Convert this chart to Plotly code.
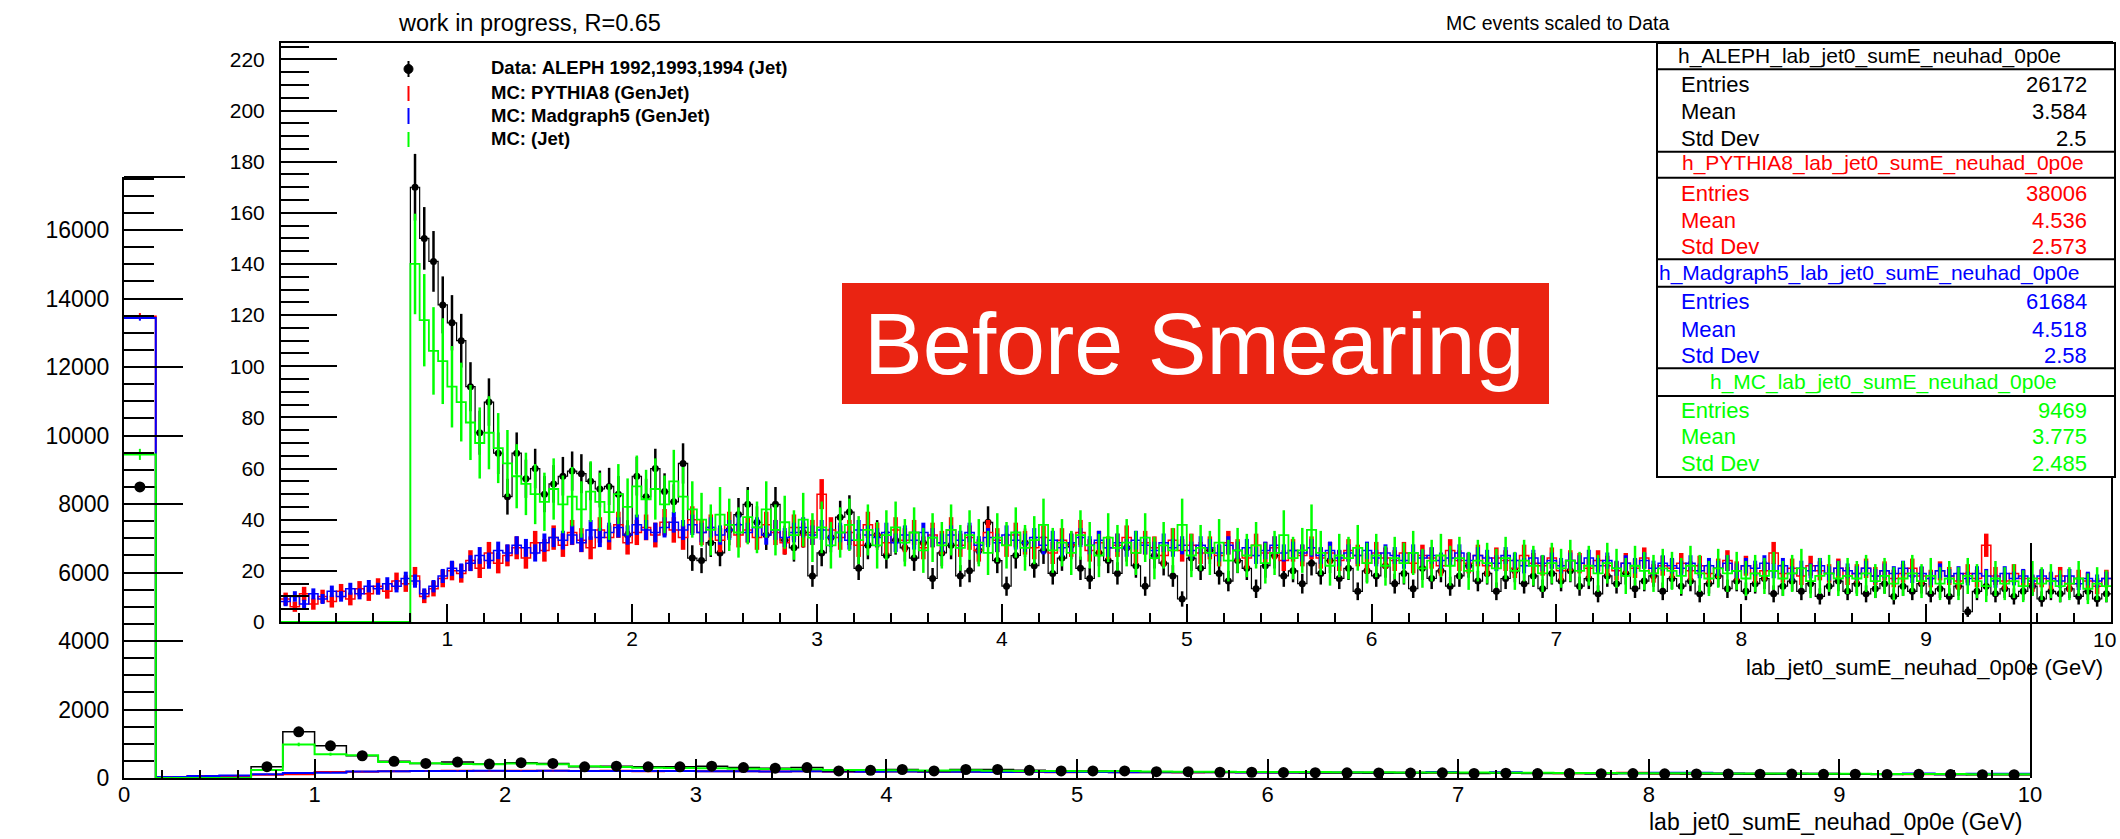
import numpy as np
import plotly.graph_objects as go

W, H = 2120, 839
FONT = "Liberation Sans, Arial, Helvetica, sans-serif"

# ---------------- data ----------------
# Main plot: 60 bins over [0, 10] GeV
main_data = [8500, 0, 0, 0, 330, 1350, 940, 650, 488, 425,
             464, 408, 448, 425, 328, 345, 328, 328, 345, 304,
             287, 304, 208, 224, 248, 208, 248, 248, 224, 208,
             208, 208, 184, 184, 168, 168, 160, 155, 150, 148,
             145, 150, 135, 140, 128, 132, 125, 130, 122, 118,
             120, 112, 115, 108, 110, 104, 106, 100, 98, 95]
main_pythia = [13480, 32, 62, 58, 96, 110, 176, 185, 196, 204,
               210, 206, 214, 209, 203, 211, 198, 205, 194, 199,
               190, 195, 186, 182, 188, 176, 180, 172, 177, 170,
               173, 166, 170, 162, 165, 159, 158, 160, 154, 156,
               151, 152, 148, 146, 144, 141, 139, 150, 134, 132,
               129, 127, 124, 121, 118, 116, 113, 111, 108, 106]
main_madgraph = [13430, 30, 56, 72, 108, 147, 150, 190, 199, 206,
                 203, 211, 207, 212, 205, 208, 201, 204, 197, 200,
                 193, 196, 189, 185, 190, 181, 184, 177, 179, 172,
                 175, 169, 171, 165, 167, 161, 162, 158, 160, 155,
                 153, 172, 149, 168, 146, 143, 141, 138, 156, 150,
                 129, 126, 124, 121, 118, 116, 130, 111, 124, 122]
main_mcjet = [9450, 0, 0, 0, 230, 980, 696, 667, 470, 430,
              412, 398, 420, 405, 345, 318, 300, 292, 286, 270,
              262, 258, 232, 236, 228, 220, 226, 214, 208, 205,
              198, 202, 190, 186, 180, 178, 176, 172, 168, 165,
              162, 160, 158, 155, 150, 148, 145, 142, 140, 136,
              133, 130, 128, 125, 122, 120, 117, 115, 112, 110]

# Inset: 198 bins of 0.05 GeV over [0.1, 10]
inset_data = [0] * 14 + [
    170, 150, 141, 124, 117, 110, 92, 74, 86, 66,
    49, 66, 56, 60, 50, 54, 57, 59, 58, 55,
    52, 53, 50, 34, 57, 49, 60, 51, 47, 62,
    25, 24, 31, 27, 36, 42, 46, 39, 34, 46,
    32, 29, 35, 18, 27, 33, 41, 43, 21, 30,
    34, 26, 32, 29, 25, 31, 17, 27, 30, 18,
    20, 28, 39, 24, 14, 26, 31, 22, 28, 19,
    25, 30, 21, 17, 27, 24, 19, 29, 22, 14,
    26, 23, 18, 9, 25, 21, 28, 19, 16, 24,
    21, 13, 22, 26, 18, 20, 15, 23, 19, 24,
    17, 21, 12, 20, 18, 22, 15, 19, 13, 21,
    17, 20, 14, 18, 22, 16, 19, 12, 17, 20,
    15, 18, 13, 19, 16, 20, 14, 17, 11, 18,
    15, 19, 13, 16, 18, 12, 17, 14, 16, 11,
    15, 18, 13, 16, 12, 15, 17, 11, 14, 16,
    12, 15, 10, 14, 16, 12, 15, 11, 13, 15,
    10, 14, 12, 15, 11, 13, 10, 14, 4, 12,
    14, 11, 13, 10, 12, 14, 9, 12, 11, 13,
    10, 12, 9, 11]
inset_pythia = [
    9, 6, 11, 7, 10, 8, 12, 9, 13, 11,
    14, 12, 16, 15, 18, 10, 13, 17, 20, 19,
    24, 21, 27, 23, 26, 29, 25, 31, 28, 33,
    30, 35, 32, 29, 36, 33, 38, 31, 35, 37,
    34, 39, 36, 33, 40, 35, 37, 32, 38, 34,
    36, 33, 38, 35, 31, 37, 34, 35, 50, 36,
    33, 35, 30, 38, 34, 31, 36, 32, 35, 29,
    34, 31, 36, 30, 33, 28, 35, 32, 30, 34,
    31, 29, 33, 27, 32, 30, 35, 28, 31, 29,
    30, 33, 27, 31, 29, 26, 32, 28, 30, 27,
    29, 26, 31, 28, 25, 30, 27, 29, 24, 28,
    26, 29, 25, 27, 24, 28, 26, 23, 27, 25,
    24, 27, 23, 26, 25, 22, 28, 24, 23, 26,
    22, 25, 24, 21, 26, 23, 22, 25, 20, 24,
    23, 21, 24, 22, 20, 23, 21, 25, 19, 22,
    21, 23, 20, 22, 19, 21, 24, 20, 22, 19,
    20, 27, 19, 21, 18, 22, 20, 19, 21, 18,
    19, 21, 18, 20, 17, 19, 21, 18, 17, 20,
    18, 16, 19, 17, 30, 18, 16, 19, 17, 15,
    17, 16, 18, 15, 17, 16, 14, 17]
inset_madgraph = [
    8, 10, 7, 11, 9, 12, 10, 13, 11, 14,
    13, 15, 14, 17, 16, 11, 14, 18, 21, 20,
    23, 26, 24, 28, 27, 30, 29, 27, 31, 33,
    32, 34, 31, 36, 33, 35, 37, 34, 38, 36,
    35, 37, 39, 36, 38, 35, 37, 34, 36, 38,
    35, 37, 34, 36, 33, 35, 37, 34, 36, 33,
    35, 32, 36, 34, 33, 35, 31, 34, 32, 35,
    33, 31, 34, 32, 35, 30, 33, 31, 34, 32,
    31, 33, 30, 32, 29, 31, 33, 30, 32, 29,
    31, 29, 32, 30, 28, 31, 29, 30, 28, 30,
    29, 27, 30, 28, 29, 26, 28, 30, 27, 28,
    27, 29, 26, 28, 25, 27, 26, 28, 25, 27,
    26, 24, 27, 25, 26, 24, 25, 27, 24, 26,
    25, 23, 26, 24, 22, 25, 23, 24, 22, 24,
    23, 25, 22, 24, 21, 23, 22, 24, 21, 23,
    22, 21, 23, 20, 22, 21, 23, 20, 22, 21,
    23, 20, 22, 19, 21, 20, 22, 19, 21, 20,
    19, 21, 18, 20, 19, 21, 18, 19, 17, 20,
    18, 19, 17, 19, 18, 16, 19, 17, 18, 16,
    18, 17, 16, 18, 15, 17, 16, 17]
inset_mcjet = [0] * 14 + [
    140, 118, 106, 102, 92, 86,
    78, 70, 74, 68, 62, 57, 54, 50, 47, 52,
    46, 49, 44, 51, 47, 43, 50, 45, 53, 48,
    52, 46, 55, 49, 44, 40, 36, 42, 38, 35,
    41, 37, 44, 36, 39, 34, 40, 33, 37, 30,
    35, 38, 32, 36, 30, 34, 37, 31, 35, 28,
    33, 30, 36, 29, 34, 31, 27, 33, 30, 35,
    29, 32, 38, 28, 31, 27, 34, 30, 26, 33,
    29, 31, 27, 33, 25, 30, 28, 38, 26, 29,
    27, 31, 24, 28, 26, 30, 23, 27, 34, 25,
    28, 36, 27, 22, 26, 25, 29, 23, 26, 22,
    25, 23, 27, 21, 24, 26, 22, 25, 20, 24,
    23, 21, 25, 20, 24, 22, 19, 23, 21, 24,
    20, 22, 19, 23, 21, 18, 22, 20, 19, 21,
    20, 18, 22, 19, 17, 21, 19, 20, 17, 19,
    18, 20, 17, 19, 21, 16, 18, 19, 17, 18,
    17, 19, 16, 18, 15, 17, 19, 16, 18, 15,
    17, 15, 18, 16, 14, 17, 15, 16, 14, 17,
    15, 16, 14, 15, 17, 13, 15, 14]

# relative statistical weight of each sample (MC scaled to data)
weight_data, weight_pythia, weight_madgraph, weight_mcjet = 1.0, 0.69, 0.42, 2.76

legend_labels = ["Data: ALEPH 1992,1993,1994 (Jet)", "MC: PYTHIA8 (GenJet)",
                 "MC: Madgraph5 (GenJet)", "MC: (Jet)"]
stat_names = ["h_ALEPH_lab_jet0_sumE_neuhad_0p0e", "h_PYTHIA8_lab_jet0_sumE_neuhad_0p0e",
              "h_Madgraph5_lab_jet0_sumE_neuhad_0p0e", "h_MC_lab_jet0_sumE_neuhad_0p0e"]
stat_entries = ["26172", "38006", "61684", "9469"]
stat_means = ["3.584", "4.536", "4.518", "3.775"]
stat_stds = ["2.5", "2.573", "2.58", "2.485"]

RED, BLUE, GREEN, BLACK = "#ff0000", "#0000ff", "#00ff00", "#000000"

# ---------------- helpers ----------------
def px(x):
    return x / W

def py(y):
    return 1 - y / H

def edges(vals, lo, hi):
    return np.linspace(lo, hi, len(vals) + 1)

def step(vals, lo, hi, color, width, xa, ya):
    e = edges(vals, lo, hi)
    return go.Scatter(x=e, y=list(vals) + [vals[-1]], mode="lines",
                      line=dict(color=color, width=width, shape="hv"),
                      xaxis=xa, yaxis=ya, hoverinfo="skip", showlegend=False)

def errs(vals, lo, hi, w, color, width, xa, ya):
    e = edges(vals, lo, hi)
    c = 0.5 * (e[:-1] + e[1:])
    xs, ys = [], []
    for ci, v in zip(c, vals):
        if v <= 0:
            continue
        er = float(np.sqrt(v * w))
        xs += [ci, ci, None]
        ys += [v - er, v + er, None]
    return go.Scatter(x=xs, y=ys, mode="lines", line=dict(color=color, width=width),
                      xaxis=xa, yaxis=ya, hoverinfo="skip", showlegend=False)

def markers(vals, lo, hi, size, xa, ya):
    e = edges(vals, lo, hi)
    c = 0.5 * (e[:-1] + e[1:])
    xs = [ci for ci, v in zip(c, vals) if v > 0]
    ys = [v for v in vals if v > 0]
    return go.Scatter(x=xs, y=ys, mode="markers", marker=dict(color=BLACK, size=size),
                      xaxis=xa, yaxis=ya, hoverinfo="skip", showlegend=False)

fig = go.Figure()

# ---- main (outer) plot ----
M = (0.0, 10.0)
fig.add_trace(step(main_pythia, *M, RED, 2, "x", "y"))
fig.add_trace(step(main_madgraph, *M, BLUE, 2, "x", "y"))
fig.add_trace(step(main_data, *M, BLACK, 1.5, "x", "y"))
fig.add_trace(step(main_mcjet, *M, GREEN, 2, "x", "y"))
fig.add_trace(errs(main_pythia, *M, weight_pythia, RED, 2, "x", "y"))
fig.add_trace(errs(main_madgraph, *M, weight_madgraph, BLUE, 2, "x", "y"))
fig.add_trace(errs(main_mcjet, *M, weight_mcjet, GREEN, 2, "x", "y"))
fig.add_trace(errs(main_data, *M, weight_data, BLACK, 2, "x", "y"))
fig.add_trace(markers(main_data, *M, 11, "x", "y"))

# ---- inset plot ----
I = (0.1, 10.0)
fig.add_trace(step(inset_data, *I, BLACK, 1.2, "x2", "y2"))
fig.add_trace(errs(inset_data, *I, weight_data, BLACK, 2.5, "x2", "y2"))
fig.add_trace(markers(inset_data, *I, 7, "x2", "y2"))
fig.add_trace(step(inset_pythia, *I, RED, 1.5, "x2", "y2"))
fig.add_trace(errs(inset_pythia, *I, weight_pythia, RED, 4.5, "x2", "y2"))
fig.add_trace(step(inset_madgraph, *I, BLUE, 1.5, "x2", "y2"))
fig.add_trace(errs(inset_madgraph, *I, weight_madgraph, BLUE, 4, "x2", "y2"))
fig.add_trace(step(inset_mcjet, *I, GREEN, 1.8, "x2", "y2"))
fig.add_trace(errs(inset_mcjet, *I, weight_mcjet, GREEN, 2.5, "x2", "y2"))

def axis(**kw):
    base = dict(showgrid=False, zeroline=False, showline=True, linecolor=BLACK,
                linewidth=2, ticks="inside", tickcolor=BLACK, tickwidth=1.5,
                tickmode="linear", fixedrange=True, automargin=False)
    base.update(kw)
    return base

fig.update_layout(
    width=W, height=H, autosize=False,
    margin=dict(l=0, r=0, t=0, b=0, pad=0, autoexpand=False),
    paper_bgcolor="white", plot_bgcolor="rgba(0,0,0,0)", showlegend=False,
    xaxis=axis(domain=[px(124), px(2030)], range=[0, 10], anchor="y", tick0=0, dtick=1,
               ticklen=19, tickfont=dict(family=FONT, size=22, color=BLACK),
               ticklabelstandoff=-4,
               minor=dict(dtick=0.2, ticklen=8, ticks="inside", tickcolor=BLACK, tickwidth=1.5)),
    yaxis=axis(domain=[py(778), py(177)], range=[0, 17550], anchor="x", tick0=0, dtick=2000,
               ticklen=59, tickformat="d", tickfont=dict(family=FONT, size=23, color=BLACK),
               ticklabelstandoff=8,
               minor=dict(dtick=500, ticklen=30, ticks="inside", tickcolor=BLACK, tickwidth=1.5)),
    xaxis2=axis(domain=[px(281), px(2111)], range=[0.1, 10], anchor="y2", tick0=0, dtick=1,
                ticklen=18, mirror=True, tickfont=dict(family=FONT, size=21, color=BLACK),
                ticklabelstandoff=-3,
                minor=dict(dtick=0.2, ticklen=9, ticks="inside", tickcolor=BLACK, tickwidth=1.5)),
    yaxis2=axis(domain=[py(622), py(43)], range=[0, 226.4], anchor="x2", tick0=0, dtick=20,
                ticklen=56, mirror=True, tickfont=dict(family=FONT, size=21, color=BLACK),
                ticklabelstandoff=10,
                minor=dict(dtick=5, ticklen=28, ticks="inside", tickcolor=BLACK, tickwidth=1.5)),
)

shapes = []
ann = []

def line(x0, y0, x1, y1, color=BLACK, width=2):
    shapes.append(dict(type="line", xref="paper", yref="paper", x0=px(x0), y0=py(y0),
                       x1=px(x1), y1=py(y1), line=dict(color=color, width=width), layer="above"))

def text(x, y, s, size, color=BLACK, xanchor="left", bold=False):
    if bold:
        s = "<b>" + s + "</b>"
    ann.append(dict(x=px(x), y=py(y), xref="paper", yref="paper", text=s, showarrow=False,
                    xanchor=xanchor, yanchor="middle",
                    font=dict(family=FONT, size=size, color=color)))

# outer frame pieces not hidden by the inset pad
line(124, 177, 185, 177)
line(2031, 543, 2031, 778)

# inset "10" tick label sits at the very edge of the canvas
ann.append(dict(x=10, y=0, xref="x2", yref="y2", text="10", showarrow=False,
                xanchor="right", yanchor="top", yshift=-4, xshift=7,
                font=dict(family=FONT, size=21, color=BLACK)))

# titles
text(396, 23, "work in progress, R=0.65", 23.5)
text(1444, 23, "MC events scaled to Data", 19.5)

# axis titles
text(2024, 822, "lab_jet0_sumE_neuhad_0p0e (GeV)", 23, xanchor="right")
text(2105, 667, "lab_jet0_sumE_neuhad_0p0e (GeV)", 22, xanchor="right")

# legend
shapes.append(dict(type="circle", xref="paper", yref="paper", x0=px(404), x1=px(413),
                   y0=py(73.5), y1=py(64.5), fillcolor=BLACK, line=dict(color=BLACK, width=1)))
line(408.5, 61, 408.5, 77, BLACK, 2)
line(408.5, 86, 408.5, 101, RED, 2)
line(408.5, 108, 408.5, 124, BLUE, 2)
line(408.5, 132, 408.5, 147, GREEN, 2)
for yy, lab in zip([67, 92, 115, 138], legend_labels):
    text(489, yy, lab, 18.5, bold=True)

# stats boxes
bx0, bx1 = 1657, 2115
shapes.append(dict(type="rect", xref="paper", yref="paper", x0=px(bx0), x1=px(bx1),
                   y0=py(477), y1=py(43), fillcolor="white", line=dict(color=BLACK, width=2),
                   layer="above"))
for yy in [69.3, 151.7, 177.7, 259.3, 286.7, 368.3, 396]:
    line(bx0, yy, bx1, yy, BLACK, 2)
rows = [(56, 84.5, 111.7, 139), (163.3, 193.3, 220.7, 246.7),
        (272.7, 301.7, 329, 355), (381.7, 410, 436, 463.3)]
hx = [1869.5, 1883, 1868.7, 1883.7]
cols = [BLACK, RED, BLUE, GREEN]
for i in range(4):
    hy, ey, my, sy = rows[i]
    c = cols[i]
    text(hx[i], hy, stat_names[i], 21, c, xanchor="center")
    text(1679, ey, "Entries", 22, c)
    text(1679, my, "Mean", 22, c)
    text(1679, sy, "Std Dev", 22, c)
    text(2089, ey, stat_entries[i], 22, c, xanchor="right")
    text(2089, my, stat_means[i], 22, c, xanchor="right")
    text(2089, sy, stat_stds[i], 22, c, xanchor="right")

# "Before Smearing" label
shapes.append(dict(type="rect", xref="paper", yref="paper", x0=px(842), x1=px(1549),
                   y0=py(404), y1=py(283), fillcolor="#EA2412", line=dict(width=0),
                   layer="above"))
text(1194, 343, "Before Smearing", 88, "white", xanchor="center")

fig.update_layout(shapes=shapes, annotations=ann)
fig.write_html("out.html")
